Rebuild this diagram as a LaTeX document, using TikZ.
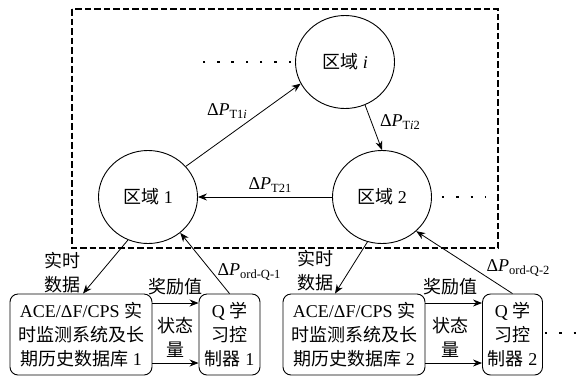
\documentclass[tikz,border=0pt]{standalone}
\usepackage{fontspec}
\setmainfont{Liberation Serif}
\newfontfamily\cjk{Noto Sans CJK SC}
\usetikzlibrary{shapes.geometric, arrows.meta, positioning, calc}
\newcommand{\zh}[1]{{\cjk #1}}
\newcommand{\dsub}[1]{\raisebox{-3.5pt}{\fontsize{12.5}{13}\selectfont #1}}

\begin{document}
\begin{tikzpicture}[
		x=1pt, y=-1pt,
		font=\fontsize{18}{24}\selectfont,
		% Style for the area circles
		area/.style={ellipse, draw, line width=0.9pt, minimum width=99pt, minimum height=93pt, inner sep=0pt},
		% Style for the monitoring and controller boxes
		unit/.style={draw, line width=0.9pt, rounded corners=8pt, align=center, inner sep=2pt, minimum height=81pt},
		% Connector styles
		arrow/.style={-{Stealth[length=9pt, width=7pt]}, line width=0.8pt},
		dots/.style={line width=2.5pt, dash pattern=on 2.5pt off 11.8pt},
		region/.style={line width=2.2pt, dash pattern=on 6.5pt off 3pt},
		lbl/.style={inner sep=0pt, align=center}
		]
		\useasboundingbox (0,0) rectangle (578,376);
		
		% --- 1. Areas ---
		\node[area] (zi) at (345,62) {\zh{区域} \textit{i}};
		\node[area] (z1) at (148,197) {\zh{区域} 1};
		\node[area] (z2) at (382,197) {\zh{区域} 2};
		
		% dashed frame round the grid
		\draw[region] (72,9) rectangle (498,248);
		
		% --- 2. Monitoring systems and Q controllers ---
		\node[unit, minimum width=142pt] (b1) at (81,334.5) {ACE/ΔF/CPS \zh{实}\\ \zh{时监测系统及长}\\ \zh{期历史数据库} 1};
		\node[unit, minimum width=61pt] (q1) at (229.5,334.5) {Q \zh{学}\\ \zh{习控}\\ \zh{制器} 1};
		\node[unit, minimum width=142pt] (b2) at (354,334.5) {ACE/ΔF/CPS \zh{实}\\ \zh{时监测系统及长}\\ \zh{期历史数据库} 2};
		\node[unit, minimum width=60pt] (q2) at (512.5,334.5) {Q \zh{学}\\ \zh{习控}\\ \zh{制器} 2};
		
		% --- 3. Tie-line arrows ---
		\draw[arrow] (z1.39) -- (zi.206);
		\draw[arrow] (zi.-65) -- (z2.north);
		\draw[arrow] (z2.west) -- (z1.east);
		\node[lbl] (t1i) at (227,111) {Δ\textit{P}\dsub{T1\textit{i}}};
		\node[lbl] (ti2) at (400,122) {Δ\textit{P}\dsub{T\textit{i}2}};
		\node[lbl] (t21) at (270,185) {Δ\textit{P}\dsub{T21}};
		
		% --- 4. Arrows between areas and boxes ---
		\draw[arrow] (z1.-115) -- ([xshift=2pt]b1.north);
		\draw[arrow] (q1.north) -- (z1.-48);
		\draw[arrow] (z2.-108) -- ([xshift=-19pt]b2.north);
		\draw[arrow] (q2.north) -- (z2.-45);
		\node[lbl] (rt1) at (62,273) {\zh{实时}\\ \zh{数据}};
		\node[lbl] (rt2) at (315,271) {\zh{实时}\\ \zh{数据}};
		\node[lbl] (po1) at (249,272) {Δ\textit{P}\dsub{ord-Q-1}};
		\node[lbl] (po2) at (518,268) {Δ\textit{P}\dsub{ord-Q-2}};
		
		% --- 5. Reward and state arrows ---
		\coordinate (r1) at ([yshift=31.5pt]b1.east);
		\coordinate (s1) at ([yshift=-28.5pt]b1.east);
		\coordinate (r2) at ([yshift=31.5pt]b2.east);
		\coordinate (s2) at ([yshift=-28.5pt]b2.east);
		\draw[arrow] (r1) -- (r1 -| q1.west);
		\draw[arrow] (s1) -- (s1 -| q1.west);
		\draw[arrow] (r2) -- (r2 -| q2.west);
		\draw[arrow] (s2) -- (s2 -| q2.west);
		\node[lbl] (rw1) at (175,287) {\zh{奖励值}};
		\node[lbl] (rw2) at (450,287) {\zh{奖励值}};
		\node[lbl] (st1) at (175,337) {\zh{状态}\\ \zh{量}};
		\node[lbl] (st2) at (450,337) {\zh{状态}\\ \zh{量}};
		
		% --- 6. Ellipsis dots ---
		\draw[dots] ([xshift=-4pt]zi.west) -- ++(-88,0);
		\draw[dots] ([xshift=10pt]z2.east) -- ++(44,0);
		\draw[dots] ([xshift=2pt]q2.east |- 0,333) -- ++(33,0);
		
	\end{tikzpicture}
\end{document}
